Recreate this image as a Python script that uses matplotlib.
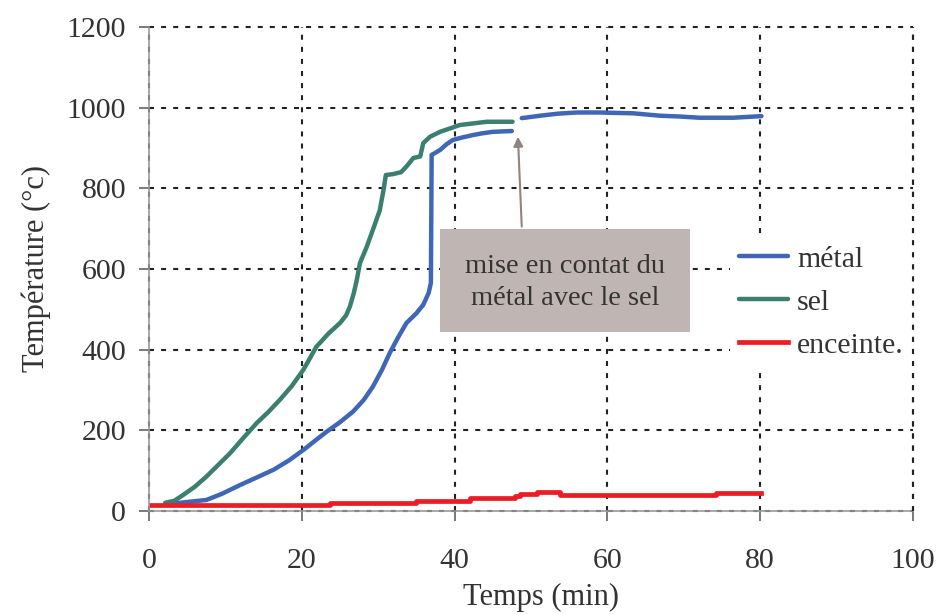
import matplotlib
matplotlib.use("Agg")
import matplotlib.pyplot as plt
from matplotlib.patches import Rectangle

plt.rcParams['font.family'] = ['Liberation Serif', 'DejaVu Serif']

# metal: two pieces (gap at the moment of contact)
metal_t1 = [3.0, 5.0, 7.5, 9.5, 11.9, 14.0, 16.3, 18.3, 20.2, 21.8, 23.3, 25.0,
            26.7, 28.1, 29.3, 30.5, 31.5, 32.6, 33.7, 35.0, 35.9, 36.6, 36.9,
            37.0, 37.3, 38.1, 39.0, 39.8, 41.0, 42.4, 43.5, 45.0, 46.2, 47.5]
metal_T1 = [18, 22, 27, 42, 64, 82, 102, 125, 151, 175, 197, 220,
            246, 275, 308, 350, 391, 430, 466, 490, 511, 540, 565,
            883, 886, 895, 910, 920, 926, 932, 936, 940, 941, 942]
metal_t2 = [48.8, 51.2, 53.5, 56.0, 59.0, 61.0, 63.4, 66.9, 69.5, 72.1, 76.5, 80.2]
metal_T2 = [974, 980, 985, 988, 988, 987, 986, 980, 978, 975, 975, 979]

sel_t = [2.1, 3.3, 4.5, 6.0, 7.5, 9.0, 10.6, 12.3, 14.1, 15.6, 17.1, 18.7,
         20.2, 21.1, 21.9, 23.5, 25.0, 25.8, 26.3, 26.8, 27.2, 27.6, 28.5,
         29.3, 30.2, 30.7, 31.0, 31.9, 33.0, 33.7, 34.6, 35.5, 35.9, 36.8,
         38.1, 40.7, 42.5, 44.2, 47.6]
sel_T = [20, 25, 40, 60, 85, 113, 143, 180, 218, 245, 275, 310,
         350, 380, 407, 440, 466, 485, 507, 540, 573, 614, 655,
         697, 745, 796, 833, 835, 840, 854, 875, 879, 912, 928,
         940, 957, 961, 965, 965]

enceinte_t = [0, 23.7, 35.0, 42.0, 47.9, 48.6, 50.8, 53.8, 74.3, 80.2]
enceinte_T = [15, 20.6, 25.6, 31.4, 38, 41.4, 46.3, 39.7, 45.4, 45.4]

x_ticks = [0, 20, 40, 60, 80, 100]
y_ticks = [0, 200, 400, 600, 800, 1000, 1200]

BLUE = "#3F67B6"
GREEN = "#3A7F70"
RED = "#EC1C24"
TXT = "#333333"
GRID = dict(color="#222222", lw=1.5, linestyle=(0, (2.4, 3.4)))

fig = plt.figure(figsize=(9.38, 6.14), dpi=100)
ax = fig.add_axes([0.159, 0.168, 0.814, 0.788])

ax.plot(metal_t1, metal_T1, color=BLUE, lw=3.2, label="métal", solid_capstyle="round")
ax.plot(metal_t2, metal_T2, color=BLUE, lw=3.2, solid_capstyle="round")
ax.plot(sel_t, sel_T, color=GREEN, lw=3.2, label="sel", solid_capstyle="round")
ax.plot(enceinte_t, enceinte_T, color=RED, lw=3.4, drawstyle="steps-post",
        label="enceinte.")

ax.set_xlim(0, 100)
ax.set_ylim(0, 1200)
ax.set_xticks(x_ticks)
ax.set_yticks(y_ticks)

ax.grid(True, **GRID)
ax.set_axisbelow(True)
for gl in ax.get_xgridlines() + ax.get_ygridlines():
    gl.set_clip_on(False)
# right border line stays visible over the legend
ax.axvline(100, zorder=6, clip_on=False, **GRID)

for s in ["top", "right"]:
    ax.spines[s].set_visible(False)
for s in ["left", "bottom"]:
    ax.spines[s].set_color("#999999")
    ax.spines[s].set_linewidth(1.2)

ax.tick_params(axis="both", direction="out", length=7, width=1.1, color="#555555",
               labelsize=21.5, labelcolor=TXT)
ax.tick_params(axis="x", pad=20)
ax.tick_params(axis="y", pad=9.5)

ax.set_xlabel("Temps (min)", fontsize=22, color=TXT, labelpad=6,
              x=(541 - 149) / 764)
ax.set_ylabel("Température (°c)", fontsize=22, color=TXT, labelpad=11)

# annotation box
box = Rectangle((38.1, 443), 32.7, 257, facecolor="#BFB6B3", edgecolor="none", zorder=4)
ax.add_patch(box)
ax.text(54.45, 566, "mise en contat du\nmétal avec le sel", ha="center", va="center",
        fontsize=20.5, color=TXT, linespacing=1.38, zorder=5)
ax.annotate("", xy=(48.3, 928), xytext=(48.8, 705),
            arrowprops=dict(arrowstyle="-|>", color="#8E8480", lw=1.5,
                            mutation_scale=14, shrinkA=0, shrinkB=0), zorder=5)

leg = ax.legend(loc="upper left", bbox_to_anchor=(730 / 938, 1 - 237 / 614),
                bbox_transform=fig.transFigure, frameon=True, fontsize=21.5,
                handlelength=1.64, handletextpad=0.3, labelspacing=0.54,
                borderpad=0.3, borderaxespad=0, fancybox=False)
leg.get_frame().set_facecolor("white")
leg.get_frame().set_edgecolor("none")
leg.get_frame().set_alpha(1)
for t in leg.get_texts():
    t.set_color(TXT)

fig.savefig("out.png", dpi=100)
